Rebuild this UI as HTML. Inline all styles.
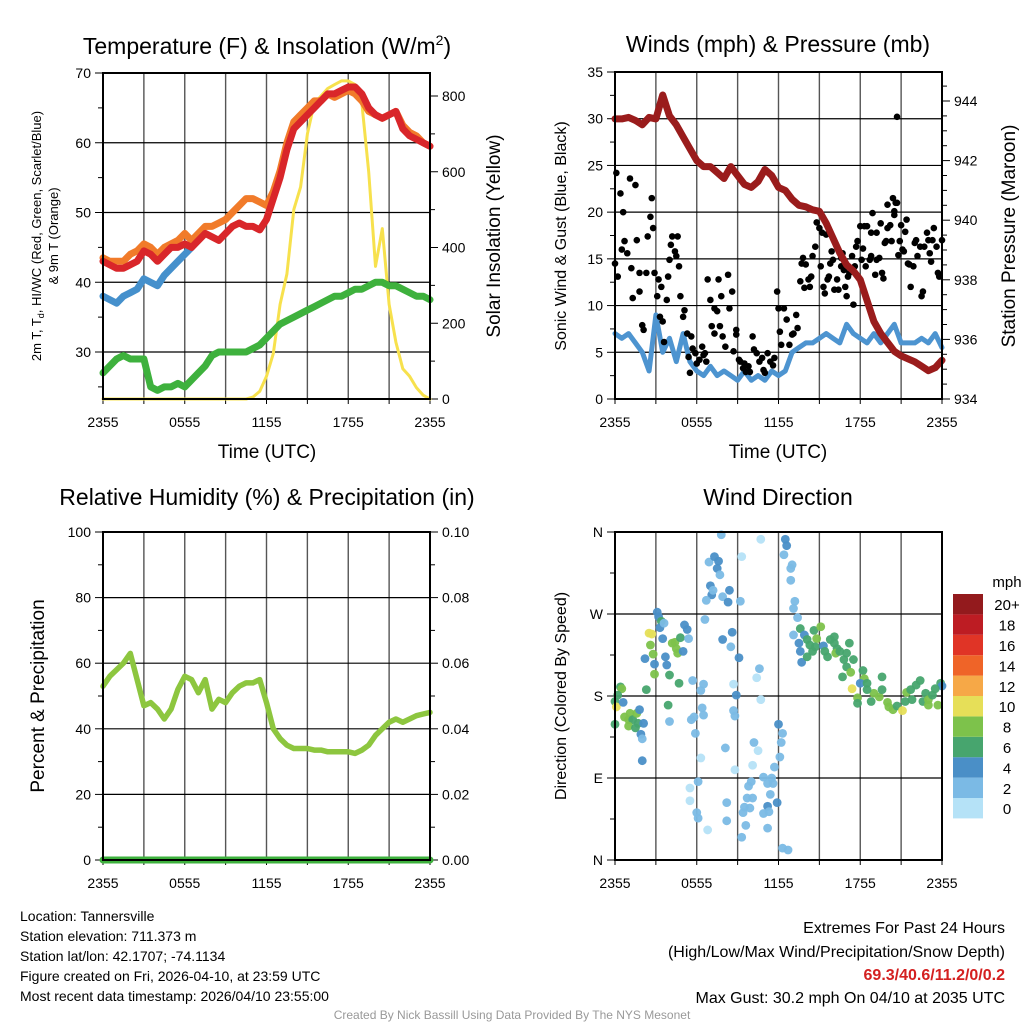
<!DOCTYPE html>
<html><head><meta charset="utf-8"><style>
html,body{margin:0;padding:0;background:#fff;}
svg text{font-family:"Liberation Sans",sans-serif;}
</style></head><body>
<svg id="c" width="1024" height="1024" xmlns="http://www.w3.org/2000/svg"></svg>
<script>
// ===== DATA =====
const hourTicks=["2355","0555","1155","1755","2355"];
// Panel 1 (half-hour samples, 49 points)
const tempRed=[43,42.5,42,42,42.5,43,44.5,44,43,44,45,45,45.5,45,46,47,46.5,46,47,48,48.5,48,48,47.5,49,52,55,59,62,63,64,65,66,67,67,67.5,68,68,67,65,64,63.5,64,64.5,62,61,60.5,60,59.5];
const temp9m=[43.5,43,43,43,44,44.5,45.5,45,44,45,45.5,46,47,46,47,48,48,48.5,49,50,51,52,52,51.5,51,53,56,60,63,64,65,66,66,67,66.5,67,67.5,67,66,64.5,64,63.5,64,64.5,62.5,61.5,61,60,59.5];
const windChill=[38,37.5,37,38,38.5,39,40.5,40,39.5,41,42,43,44,45];
const dewPoint=[27,28,29,29.5,29,29,29,25,24.5,25,25,25.5,25,26,27,28,29.5,30,30,30,30,30,30.5,31,32,33,34,34.5,35,35.5,36,36.5,37,37.5,38,38,38.5,39,39,39.5,40,40,39.5,39.5,39,38.5,38,38,37.5];
const solar=[0,0,0,0,0,0,0,0,0,0,0,0,0,0,0,0,0,0,0,0,0,0,5,20,60,120,250,330,500,560,700,780,800,820,830,840,840,830,780,600,350,450,250,150,80,60,30,10,0];
const tempTicks=[30,40,50,60,70];
const solarTicks=[0,200,400,600,800];
// Panel 2
const pressure=[943.4,943.4,943.45,943.35,943.2,943.45,943.4,944.2,943.5,943.2,942.8,942.4,942.0,941.8,941.8,941.6,941.4,941.8,941.5,941.2,941.1,941.3,941.7,941.5,941.1,941.0,940.7,940.5,940.45,940.35,940.3,939.9,939.4,938.9,938.5,938.3,938.0,937.3,936.6,936.2,935.9,935.6,935.45,935.35,935.25,935.1,934.95,935.05,935.3];
const sonicWind=[7,6.5,7,6,5,3,9,5,6.5,4,7,4,3,2.5,3.5,2.5,3,2.5,2,3,2,2.5,2,3,2.5,3,5,5.5,6,6,6.5,7,6.5,6,8,7,6.5,6,7,6,7,8,6,6,6,6.5,6,7,5.5];
const gustHours=[0,0.1,0.2,0.4,0.6,0.5,0.7,0.9,1.1,1.2,1.3,1.5,1.6,1.8,1.8,2.0,2.1,2.3,2.4,2.6,2.7,2.8,2.9,3.1,3.2,3.3,3.4,3.5,3.6,3.8,3.9,4.0,4.1,4.2,4.4,4.6,4.5,4.7,4.8,5.0,5.1,5.3,5.4,5.5,5.6,5.7,5.9,6.0,6.2,6.4,6.5,6.6,6.7,6.8,7.0,7.1,7.3,7.3,7.5,7.6,7.7,7.8,7.9,8.1,8.3,8.4,8.6,8.7,8.9,8.9,9.1,9.2,9.4,9.5,9.6,9.8,9.9,10.1,10.2,10.4,10.6,10.8,10.9,11.0,11.2,11.4,11.6,11.7,11.9,12.0,12.1,12.2,12.4,12.6,12.8,13.0,13.1,13.3,13.4,13.6,13.7,13.8,13.9,14.0,14.2,14.3,14.4,14.5,14.7,14.8,15.0,15.1,15.2,15.3,15.4,15.5,15.6,15.7,15.8,15.9,16.0,16.1,16.3,16.4,16.6,16.6,16.7,16.8,16.9,17.0,17.1,17.2,17.4,17.5,17.6,17.7,17.8,18.0,18.1,18.2,18.3,18.4,18.5,18.7,18.8,18.8,18.9,19.1,19.2,19.2,19.4,19.5,19.6,19.7,19.8,19.9,20.0,20.0,20.2,20.3,20.4,20.5,20.5,20.7,20.6,20.7,20.8,20.9,21.0,21.1,21.2,21.3,21.4,21.5,21.6,21.7,21.9,22.0,22.1,22.2,22.4,22.5,22.6,22.7,22.9,23.0,23.1,23.2,23.3,23.4,23.6,23.7,23.8,24.0];
const gustValues=[14.5,24.2,13.1,22,20,16,16.9,15.6,23.6,14,10.8,22.9,17,13.5,11.5,7.9,7.4,13.5,17.4,19.5,21.5,18.3,13.5,11,12.8,8.8,12,8.3,6.1,10.6,13.1,14.9,16.5,17.4,15.8,17.4,15.3,14.2,11,8.8,9.5,7,4.5,2.8,6.7,5.4,4.9,3.8,4.2,5.6,4.7,4.9,4,12.8,10.6,7.8,9.7,7,9.4,12.8,7.8,11,6.7,5.6,13.3,9.7,11.5,5.1,7.4,6.9,4.2,4,3.3,3.8,2.9,3.5,2.9,6.7,5.3,4.9,4,4.4,3.1,2.8,4.9,4,3.6,4.4,11.5,9.7,7.2,5.8,9.7,8.5,5.8,6.9,7,9,7.6,12.6,14.5,15.1,11.9,14.4,12.8,12,13.1,15.3,16.3,18.9,18.3,14.2,17.8,12,11.3,17.6,12.8,13.1,14.5,15.8,14.9,11.7,12.8,11.7,14.2,15.1,15.6,13.8,12,11,13.1,13.5,15.3,10.1,14.2,16.3,16.9,18.5,14.9,16.1,18.5,14.2,18.5,14.9,15.3,17.8,19.9,13.3,14.9,17.8,15.1,18.8,13.5,12.9,16.7,16.9,18.3,20.8,18.6,16.9,21.5,19.7,20.1,30.2,21,21,15.4,16.9,18.6,16,15.8,17.9,19.2,14.5,14.4,12,14.2,16.7,17,15.3,16.3,11,11.5,16.3,17.8,17,15.6,14.7,17,18.3,16.3,13.5,13.1,17];
const windTicks=[0,5,10,15,20,25,30,35];
const pressTicks=[934,936,938,940,942,944];
// Panel 3
const relHum=[53,56,58,60,63,55,47,48,46,43,46,52,56,55,51,55,46,49,48,51,53,54,54,55,48,40,37,35,34,34,34,33.5,33.5,33,33,33,33,32.5,33.5,35,38,40,42,43,42,43,44,44.5,45];
const precip=[0,0,0,0,0,0,0,0,0,0,0,0,0,0,0,0,0,0,0,0,0,0,0,0,0,0,0,0,0,0,0,0,0,0,0,0,0,0,0,0,0,0,0,0,0,0,0,0,0];
const rhTicks=[0,20,40,60,80,100];
const prTicks=["0.00","0.02","0.04","0.06","0.08","0.10"];
// Panel 4
const dirHours=[0,0.1,0.4,0.5,0.2,0.6,0,0.7,1.0,1.1,1.3,1.6,1.8,1.0,1.5,1.7,2.1,1.9,2.0,2.0,2.3,2.2,2.5,2.7,2.6,2.8,2.9,2.9,3.1,3.2,3.4,3.3,3.6,3.5,3.7,3.8,4.0,4.2,4.4,4.5,4.8,4.6,5.0,5.1,5.3,5.4,4.7,3.9,4.0,5.7,5.6,5.8,5.9,6.3,6.1,5.5,5.5,6.0,6.1,6.8,6.3,6.5,6.4,6.5,6.6,6.9,7.3,7.6,7.5,7.7,7.0,7.1,6.7,7.2,7.8,7.9,8.3,8.4,7.9,8.5,8.6,8.1,8.2,8.2,8.7,8.8,8.7,8.9,9.1,8.8,9.2,9.3,10.7,10.6,10.4,10.7,10.2,10.5,10.1,10.0,9.8,9.7,10.1,9.5,9.4,9.9,9.6,9.3,10.9,11.2,11.5,11.6,11.4,11.2,10.9,11.3,11.2,11.7,11.9,12.1,12.2,12.3,12.0,12.3,12.7,12.5,12.6,12.4,13.0,12.9,12.9,13.2,13.1,13.4,13.1,13.6,13.5,13.6,13.7,13.9,14.1,14.3,14.6,14.8,15.1,14.1,14.5,14.7,15.3,15.4,15.6,15.8,16.1,16.3,16.2,16.5,16.8,17.0,17.2,17.0,17.3,17.5,16.7,18.2,18.3,18.0,18.5,17.4,17.8,17.8,18.8,19.0,19.4,19.6,19.6,20.0,20.1,20.4,20.7,21.1,21.3,21.4,21.8,22.1,22.4,22.6,22.8,23.0,23.3,23.7,23.9,24.0,23.5,21.7,23.0,18.5,16.1];
const dirDegrees=[174,168,190,188,181,173,149,157,154,161,154,161,165,147,145,150,150,138,133,109,187,221,249,248,236,226,204,215,272,267,262,255,260,243,223,214,203,238,239,232,244,227,229,258,253,243,194,170,152,197,154,157,139,112,86,79,65,52,46,33,186,193,167,159,264,327,333,328,320,313,301,291,285,296,357,289,283,296,242,234,250,123,63,43,164,158,193,181,222,99,284,333,352,210,200,176,129,120,104,86,81,68,68,58,52,57,38,25,91,84,90,84,72,59,51,53,35,102,63,113,129,139,149,13,11,352,345,335,324,320,307,284,276,266,247,254,238,229,217,247,242,236,252,243,256,223,229,234,235,229,223,242,245,232,227,229,220,227,238,212,206,220,201,208,199,194,194,188,178,172,174,183,179,201,187,173,168,165,169,164,174,184,176,192,197,174,183,176,181,170,194,191,188,187,170,187,238];
const dirSpeedBin=[3,5,3,4,3,2,3,4,4,4,3,4,2,4,3,3,2,2,1,2,3,2,5,5,4,4,4,2,2,2,3,2,1,2,2,2,3,4,4,4,3,4,2,2,2,1,3,3,1,1,1,1,1,0,1,0,0,1,1,0,1,1,1,1,1,1,2,2,2,1,2,2,1,1,1,1,2,2,2,1,2,1,1,1,1,1,0,2,2,0,1,0,0,1,0,0,1,0,0,1,1,1,1,1,1,1,1,1,1,1,1,1,1,2,1,1,1,1,2,1,1,1,2,1,1,2,2,1,1,1,1,1,1,1,1,3,2,2,2,2,3,3,3,4,4,3,3,3,2,3,3,3,3,3,4,3,3,3,3,3,4,3,3,3,4,2,3,5,4,3,3,4,4,3,3,4,4,4,3,5,3,4,3,3,3,3,3,4,3,4,3,2,3,3,4,3,3];
const dirTicks=["N","E","S","W","N"];
const cbLabels=["0","2","4","6","8","10","12","14","16","18","20+"];
const cbColors=["#b5e2f7","#7bbae5","#4a8fc7","#47a56e","#7dc24b","#e6df58","#f6a847","#ef6428","#e03426","#bd1c23","#931a1d"];

// ===== DRAWING =====
const NS="http://www.w3.org/2000/svg";
const svg=document.getElementById('c');
function el(tag,attrs,parent,txt){const e=document.createElementNS(NS,tag);for(const k in attrs)e.setAttribute(k,attrs[k]);if(txt!==undefined)e.textContent=txt;(parent||svg).appendChild(e);return e;}
const P1={x0:103,x1:430,y0:73,y1:399};
const P2={x0:615,x1:942,y0:72,y1:399};
const P3={x0:103,x1:430,y0:532,y1:860};
const P4={x0:615,x1:942,y0:532,y1:860};
function xh(P,h){return P.x0+(P.x1-P.x0)*h/24;}
function xi(P,i){return xh(P,i*0.5);}
function lin(d0,d1,r0,r1){return v=>r0+(v-d0)*(r1-r0)/(d1-d0);}
const y1T=lin(70,30,73,352), y1S=lin(0,800,399,96);
const y2W=lin(0,35,399,72), y2P=lin(934,944,399,101);
const y3R=lin(0,100,860,532), y3P=lin(0,0.1,860,532);
const y4D=lin(0,360,860,532);

function frame(P,name){
  const g=el('g',{});  
  for(let h=0;h<=24;h+=3){const x=xh(P,h);el('line',{x1:x,y1:P.y0,x2:x,y2:P.y1,stroke:'#555','stroke-width':1.4},g);
    el('line',{x1:x,y1:P.y1,x2:x,y2:P.y1+5,stroke:'#000','stroke-width':1},g);}
  hourTicks.forEach((t,k)=>{const tx=el('text',{x:xh(P,k*6),y:P.y1+28,'font-size':14,'text-anchor':'middle'},svg,t);
    });
  return g;
}
function border(P){el('rect',{x:P.x0,y:P.y0,width:P.x1-P.x0,height:P.y1-P.y0,fill:'none',stroke:'#000','stroke-width':2});}
function hline(P,y,g){el('line',{x1:P.x0,y1:y,x2:P.x1,y2:y,stroke:'#000','stroke-width':1.2},g);}
function leftTick(P,y,label,minor){el('line',{x1:P.x0-(minor?5:8),y1:y,x2:P.x0,y2:y,stroke:'#000','stroke-width':1});
  if(label!==undefined){const t=el('text',{x:P.x0-12,y:y+5,'font-size':14,'text-anchor':'end'},svg,label);}}
function rightTick(P,y,label,minor){el('line',{x1:P.x1,y1:y,x2:P.x1+(minor?5:8),y2:y,stroke:'#000','stroke-width':1});
  if(label!==undefined){const t=el('text',{x:P.x1+12,y:y+5,'font-size':14,'text-anchor':'start'},svg,label);}}
function series(P,arr,yf,color,w,name,offset){
  const pts=[];arr.forEach((v,i)=>{if(v!==null&&v!==undefined)pts.push(xi(P,i+(offset||0)).toFixed(1)+','+yf(v).toFixed(1));});
  const p=el('polyline',{points:pts.join(' '),fill:'none',stroke:color,'stroke-width':w,'stroke-linejoin':'round','stroke-linecap':'round'});
  return p;}
function title(x,y,txt,name,size){const t=el('text',{x:x,y:y,'font-size':size||22,'text-anchor':'middle'},svg,txt);return t;}
function vtitle(x,y,txt,name,size){const t=el('text',{x:x,y:y,'font-size':size,'text-anchor':'middle',transform:'rotate(-90 '+x+' '+y+')'},svg,txt);return t;}

// ---- Panel 1 ----
{const g=frame(P1,'temperature');
 tempTicks.forEach(v=>{hline(P1,y1T(v),g);leftTick(P1,y1T(v),String(v));});
 for(let v=25;v<70;v+=10)leftTick(P1,y1T(v),undefined,true);
 solarTicks.forEach(v=>rightTick(P1,y1S(v),String(v)));
 for(let v=100;v<900;v+=200)rightTick(P1,y1S(v),undefined,true);
 series(P1,solar,y1S,'#f7e14d',3,'solar-insolation-line');
 series(P1,dewPoint,y1T,'#3eb13d',7,'dewpoint-line');
 series(P1,windChill,y1T,'#4590cc',7,'windchill-line');
 series(P1,temp9m,y1T,'#f17b2a',7,'temp-9m-line');
 series(P1,tempRed,y1T,'#d9262a',7,'temp-2m-line');
 border(P1);
 const t=el('text',{x:267,y:54,'font-size':23,'text-anchor':'middle'});
 t.appendChild(document.createTextNode('Temperature (F) & Insolation (W/m'));el('tspan',{dy:-9,'font-size':14},t,'2');el('tspan',{dy:9},t,')');
 title(267,458,'Time (UTC)','x-axis-title',19);
 const vt=el('text',{'font-size':13,'text-anchor':'middle',transform:'translate(41 236) rotate(-90)'});
 vt.appendChild(document.createTextNode('2m T, T'));el('tspan',{'font-size':9,dy:3},vt,'d');el('tspan',{dy:-3},vt,', HI/WC (Red, Green, Scarlet/Blue)');
 vtitle(58,236,'& 9m T (Orange)','temperature-y-axis-title-2',13);
 vtitle(500,236,'Solar Insolation (Yellow)','solar-axis-title',19);
}
// ---- Panel 2 ----
{const g=frame(P2,'winds');
 windTicks.forEach(v=>{hline(P2,y2W(v),g);leftTick(P2,y2W(v),String(v));});
 for(let v=2.5;v<35;v+=5)leftTick(P2,y2W(v),undefined,true);
 pressTicks.forEach(v=>rightTick(P2,y2P(v),String(v)));
 for(let v=934.5;v<944.6;v+=0.5){if(v%2)rightTick(P2,y2P(v),undefined,true);}
 series(P2,sonicWind,y2W,'#4d94d0',5,'sonic-wind-line');
 const gg=el('g',{});
 gustHours.forEach((h,i)=>{el('circle',{cx:xh(P2,h),cy:y2W(gustValues[i]),r:3.3,fill:'#000'},gg);});
 series(P2,pressure,y2P,'#9a1c1c',7,'pressure-line');
 border(P2);
 title(778,52,'Winds (mph) & Pressure (mb)','winds-title',23);
 title(778,458,'Time (UTC)','x-axis-title',19);
 vtitle(566,236,'Sonic Wind & Gust (Blue, Black)','wind-y-axis-title',16);
 vtitle(1015,236,'Station Pressure (Maroon)','pressure-axis-title',19);
}
// ---- Panel 3 ----
{const g=frame(P3,'humidity');
 rhTicks.forEach((v,k)=>{hline(P3,y3R(v),g);leftTick(P3,y3R(v),String(v));rightTick(P3,y3R(v),prTicks[k]);});
 for(let v=10;v<100;v+=20){leftTick(P3,y3R(v),undefined,true);rightTick(P3,y3R(v),undefined,true);}
 series(P3,relHum,y3R,'#8dc63f',5.5,'relative-humidity-line');
 series(P3,precip,y3P,'#3eb13d',7,'precipitation-line');
 border(P3);
 title(267,505,'Relative Humidity (%) & Precipitation (in)','humidity-title',23);
 vtitle(44,696,'Percent & Precipitation','humidity-y-axis-title',19);
}
// ---- Panel 4 ----
{const g=frame(P4,'wind-direction');
 dirTicks.forEach((lab,k)=>{const y=y4D(k*90);hline(P4,y,g);leftTick(P4,y,lab);});
 for(let k=0;k<4;k++)leftTick(P4,y4D(k*90+45),undefined,true);
 const gg=el('g',{});
 dirHours.forEach((h,i)=>{el('circle',{cx:xh(P4,h),cy:y4D(dirDegrees[i]),r:4.4,fill:cbColors[dirSpeedBin[i]],'fill-opacity':0.95},gg);});
 border(P4);
 title(778,505,'Wind Direction','wind-direction-title',23);
 vtitle(566,696,'Direction (Colored By Speed)','direction-y-axis-title',16);
 const cb=el('g',{});
 const h=20.4,top=594;
 cbColors.forEach((c,k)=>{const y=top+(10-k)*h;el('rect',{x:953,y:y,width:30,height:h,fill:c},cb);
   el('text',{x:1007,y:y+h/2+6,'font-size':15,'text-anchor':'middle'},cb,cbLabels[k]);});
 el('text',{x:1007,y:587,'font-size':15,'text-anchor':'middle'},cb,'mph');
}
// ---- Footer ----
{const info=["Location: Tannersville","Station elevation: 711.373 m","Station lat/lon: 42.1707; -74.1134","Figure created on Fri, 2026-04-10, at 23:59 UTC","Most recent data timestamp: 2026/04/10 23:55:00"];
 info.forEach((s,k)=>{const t=el('text',{x:20,y:921+k*20,'font-size':14},svg,s);});
 const r=[["Extremes For Past 24 Hours",933,'#000','normal'],["(High/Low/Max Wind/Precipitation/Snow Depth)",957,'#000','normal'],["69.3/40.6/11.2/0/0.2",980,'#d42020','bold'],["Max Gust: 30.2 mph On 04/10 at 2035 UTC",1003,'#000','normal']];
 r.forEach(a=>{const t=el('text',{x:1005,y:a[1],'font-size':16,'text-anchor':'end',fill:a[2],'font-weight':a[3]},svg,a[0]);});
 const c=el('text',{x:512,y:1019,'font-size':12,'text-anchor':'middle',fill:'#999'},svg,'Created By Nick Bassill Using Data Provided By The NYS Mesonet');
}
</script>
</body></html>
